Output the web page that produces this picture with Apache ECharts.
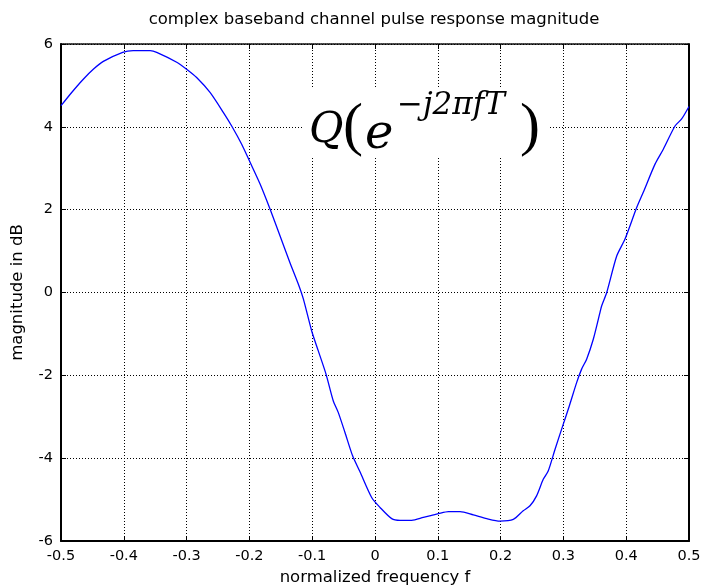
<!DOCTYPE html>
<html>
<head>
<meta charset="utf-8">
<script src="https://cdn.jsdelivr.net/npm/echarts@6/dist/echarts.min.js"></script>
<style>
  html, body { margin: 0; padding: 0; background: #fff; overflow: hidden; }
  #chart { width: 702px; height: 587px; }
</style>
</head>
<body>
<div id="chart"></div>
<script>
// Normalized frequency samples and channel magnitude (dB)
var freq = [-0.5, -0.483, -0.4645, -0.4486, -0.4326, -0.4018, -0.385, -0.358, -0.3476, -0.3157,
  -0.3, -0.284, -0.2627, -0.2416, -0.2282, -0.2123, -0.2, -0.183, -0.167, -0.1513,
  -0.1354, -0.122, -0.114, -0.1008, -0.0903, -0.078, -0.0664, -0.0584, -0.0478, -0.0355,
  -0.0239, -0.0053, 0.008, 0.0266, 0.0398, 0.0584, 0.077, 0.0903, 0.1008, 0.117,
  0.1354, 0.1566, 0.178, 0.199, 0.2202, 0.236, 0.2468, 0.2573, 0.2679, 0.2758,
  0.2866, 0.2989, 0.3094, 0.3212, 0.329, 0.337, 0.3476, 0.3583, 0.361, 0.369,
  0.3849, 0.3981, 0.4167, 0.4272, 0.4459, 0.4591, 0.4777, 0.4883, 0.5];
var magnitudeDb = [4.51, 4.83, 5.15, 5.39, 5.58, 5.80, 5.84, 5.84, 5.80, 5.56,
  5.39, 5.19, 4.83, 4.35, 4.02, 3.58, 3.18, 2.62, 2.01, 1.37,
  0.72, 0.20, -0.16, -0.93, -1.41, -1.97, -2.62, -2.90, -3.38, -3.95,
  -4.33, -4.95, -5.19, -5.46, -5.50, -5.50, -5.43, -5.38, -5.34, -5.29,
  -5.29, -5.37, -5.46, -5.52, -5.48, -5.27, -5.15, -4.91, -4.51, -4.31,
  -3.79, -3.22, -2.74, -2.17, -1.85, -1.61, -1.13, -0.48, -0.32, 0.0,
  0.88, 1.29, 2.05, 2.42, 3.10, 3.46, 4.02, 4.19, 4.49];

var xRange = [-0.5, 0.5], xStep = 0.1;
var yRange = [-6, 6], yStep = 2;

var titleText = 'complex baseband channel pulse response magnitude';
var xName = 'normalized frequency f';
var yName = 'magnitude in dB';

var uiFont = '"DejaVu Sans", sans-serif';
var mathFont = '"DejaVu Serif", serif';

var points = freq.map(function (f, i) { return [f, magnitudeDb[i]]; });

var chart = echarts.init(document.getElementById('chart'), null,
  { renderer: 'canvas', width: 702, height: 587 });

var solidFrame = { show: true, onZero: false, lineStyle: { color: '#000', width: 2 } };
var dottedFrame = { show: true, onZero: false, lineStyle: { color: '#000', width: 1.6, type: [1, 1] } };
var gridLine = { show: true, lineStyle: { color: '#000', width: 1, type: [1, 2] } };
var innerTick = { show: true, inside: true, length: 5, lineStyle: { color: '#000', width: 1 } };

function fmt(v) {
  return String(Math.round(v * 10) / 10);
}

chart.setOption({
  animation: false,
  backgroundColor: '#fff',
  title: {
    text: titleText,
    left: 369, top: 6, textAlign: 'center',
    textStyle: { fontFamily: uiFont, fontSize: 16.5, fontWeight: 'normal', color: '#000' }
  },
  grid: { left: 61, right: 13, top: 44, bottom: 46, containLabel: false, outerBoundsMode: 'none' },
  xAxis: [{
    type: 'value', min: xRange[0], max: xRange[1], interval: xStep,
    name: xName, nameLocation: 'middle', nameGap: 28,
    nameTextStyle: { fontFamily: uiFont, fontSize: 16.5, color: '#000' },
    axisLine: solidFrame, axisTick: innerTick, splitLine: gridLine,
    axisLabel: { margin: 8, fontFamily: uiFont, fontSize: 14.5, color: '#000', formatter: fmt }
  }, {
    type: 'value', position: 'top', min: xRange[0], max: xRange[1], interval: xStep,
    axisLine: dottedFrame, axisTick: innerTick, splitLine: { show: false }, axisLabel: { show: false }
  }],
  yAxis: [{
    type: 'value', min: yRange[0], max: yRange[1], interval: yStep,
    name: yName, nameLocation: 'middle', nameGap: 35, nameRotate: 90,
    nameTextStyle: { fontFamily: uiFont, fontSize: 16.5, color: '#000' },
    axisLine: solidFrame, axisTick: innerTick, splitLine: gridLine,
    axisLabel: { margin: 8, fontFamily: uiFont, fontSize: 14.5, color: '#000', padding: [0, 0, 8, 0] }
  }, {
    type: 'value', position: 'right', min: yRange[0], max: yRange[1], interval: yStep,
    axisLine: solidFrame, axisTick: innerTick, splitLine: { show: false }, axisLabel: { show: false }
  }],
  series: [{
    type: 'line', data: points, showSymbol: false, smooth: 0.25,
    lineStyle: { color: '#0000ff', width: 1.3 }, z: 3
  }],
  graphic: [
    { type: 'rect', shape: { x: 303, y: 88, width: 245, height: 69 }, style: { fill: '#fff' }, z: 50 },
    { type: 'text', x: 309, y: 131, z: 51,
      style: { text: 'Q', font: 'italic 42px ' + mathFont, fill: '#000', textVerticalAlign: 'middle' } },
    { type: 'text', x: 343, y: 128, z: 51,
      style: { text: '(', font: '60px "Liberation Serif", serif', fill: '#000', textVerticalAlign: 'middle' } },
    { type: 'text', x: 365, y: 136, z: 51,
      style: { text: 'e', font: 'italic 48px ' + mathFont, fill: '#000', textVerticalAlign: 'middle' } },
    { type: 'text', x: 397, y: 106, z: 51,
      style: { text: '\u2212j2\u03c0fT', font: 'italic 31px ' + mathFont, fill: '#000', textVerticalAlign: 'middle' } },
    { type: 'text', x: 520, y: 128, z: 51,
      style: { text: ')', font: '60px "Liberation Serif", serif', fill: '#000', textVerticalAlign: 'middle' } }
  ]
});
</script>
</body>
</html>
